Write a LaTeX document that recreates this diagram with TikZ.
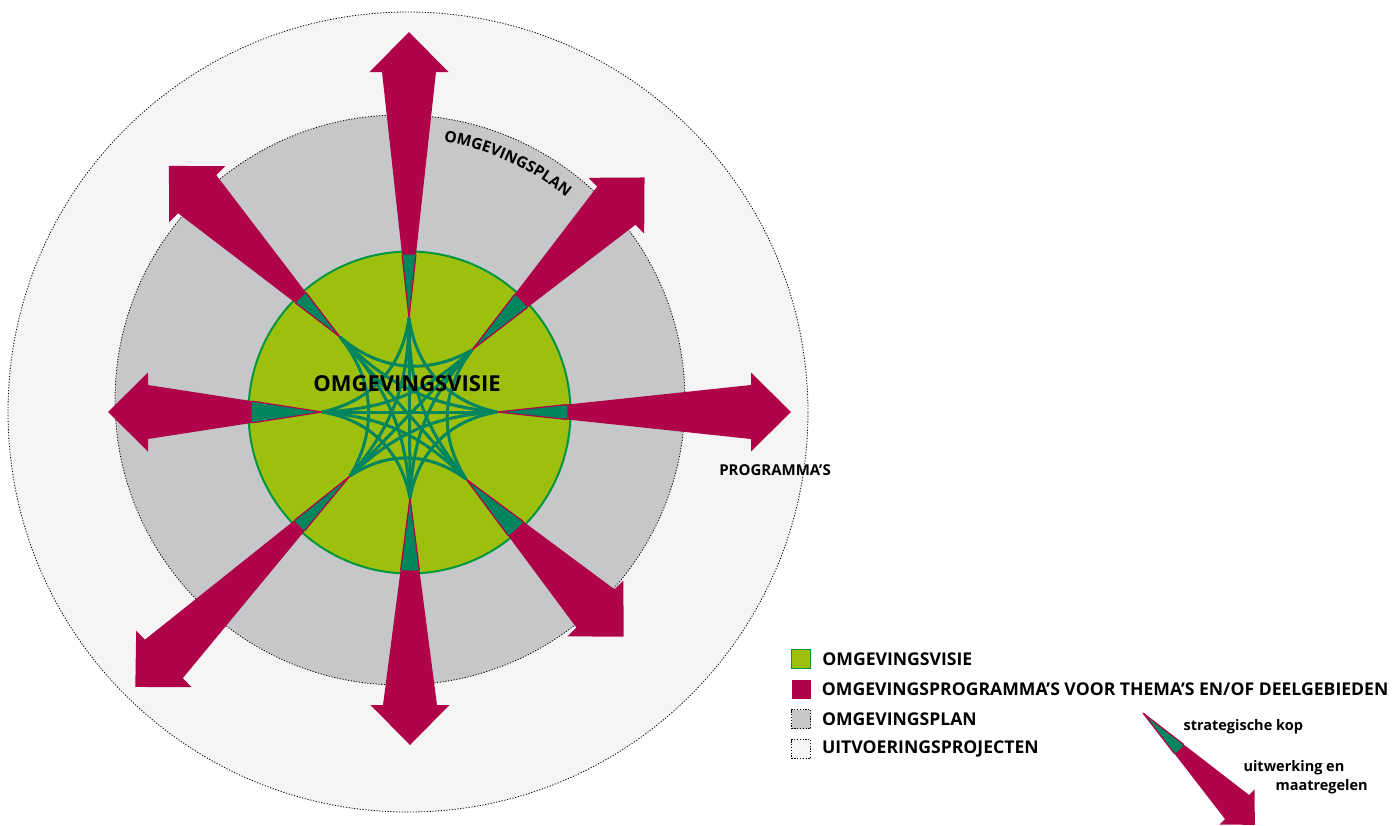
\documentclass[tikz,border=0pt]{standalone}
\usepackage{fontspec}
\setmainfont{Open Sans}
\usetikzlibrary{calc,positioning,decorations.text}

\definecolor{visielime}{HTML}{9DC00F}
\definecolor{visieline}{HTML}{00963F}
\definecolor{kopgreen}{HTML}{00855F}
\definecolor{progred}{HTML}{B0044A}
\definecolor{plangray}{HTML}{C6C7C9}
\definecolor{uitvoering}{HTML}{F5F5F5}

\tikzset{
  prog/.style={fill=progred},
  kop/.style={fill=kopgreen, draw=progred, line width=1.2pt, line join=round},
  ster/.style={draw=kopgreen, line width=3pt},
  ring/.style={draw=black, line width=0.8pt, dash pattern=on 1.2pt off 1.6pt},
  legbox/.style={minimum size=19pt, inner sep=0pt},
  legtext/.style={font=\bfseries\fontsize{17.6}{17.6}\selectfont, inner sep=0pt},
}

% apex, angle, length to tip, clip for the strategic head
\newcommand{\progarrow}[4]{%
  \fill[prog] (#1) -- ($(#1)+(#2:#3-40)+(#2-90:27)$) -- ($(#1)+(#2:#3-40)+(#2-90:39.5)$)
    -- ($(#1)+(#2:#3)$) -- ($(#1)+(#2:#3-40)+(#2+90:39.5)$) -- ($(#1)+(#2:#3-40)+(#2+90:27)$) -- cycle;
  \begin{scope}
    \clip #4;
    \filldraw[kop] (#1) -- ($(#1)+(#2:#3-40)+(#2-90:27)$) -- ($(#1)+(#2:#3-40)+(#2+90:27)$) -- cycle;
  \end{scope}}

\begin{document}
\begin{tikzpicture}[x=1pt,y=1pt]
  \useasboundingbox (0,0) rectangle (1394,-825);

  \coordinate (mid) at (408,-412);
  \coordinate (plan) at (400,-400);
  \coordinate (visie) at (409.5,-412.5);

  % rings
  \filldraw[ring, fill=uitvoering] (mid) circle (400);
  \filldraw[ring, fill=plangray] (plan) circle (285);
  \filldraw[draw=visieline, line width=2pt, fill=visielime] (visie) circle (161);

  % apexes of the programmes
  \coordinate (p0) at (497,-412);
  \coordinate (p1) at (472,-350);
  \coordinate (p2) at (409,-318);
  \coordinate (p3) at (340,-337);
  \coordinate (p4) at (322,-412);
  \coordinate (p5) at (350,-476);
  \coordinate (p6) at (410,-498);
  \coordinate (p7) at (466,-479);

  \progarrow{p0}{0}{294}{(visie) circle (158)}
  \progarrow{p1}{45}{244}{(visie) circle (158)}
  \progarrow{p2}{90}{286}{(visie) circle (158)}
  \progarrow{p3}{135}{242}{(visie) circle (158)}
  \progarrow{p4}{180}{214}{(visie) circle (158)}
  \progarrow{p5}{-135.5}{301}{(visie) circle (158)}
  \progarrow{p6}{-90}{247}{(visie) circle (158)}
  \progarrow{p7}{-45}{223}{(visie) circle (158)}

  % star
  \foreach \i in {0,...,7}{
    \pgfmathtruncatemacro{\j}{mod(\i+2,8)}
    \pgfmathtruncatemacro{\k}{mod(\i+3,8)}
    \draw[ster] (p\i) to[bend left=35] (p\j);
    \draw[ster] (p\i) to[bend left=20] (p\k);
  }
  \foreach \i [evaluate=\i as \j using int(\i+4)] in {0,...,3}
    \draw[ster] (p\i) -- (p\j);

  % labels
  \node[font=\bfseries\fontsize{22}{22}\selectfont] (visietekst) at (407,-384) {OMGEVINGSVISIE};
  \path[decorate, decoration={text along path, text align=center,
      text={|\bfseries\fontsize{15.5}{15.5}\selectfont|OMGEVINGSPLAN}}]
    ($(plan)+(82:262)$) arc[start angle=82, end angle=49, radius=262];
  \node[font=\bfseries\fontsize{15}{15}\selectfont] (programmas) at (775,-470) {PROGRAMMA’S};

  % legend
  \node[legbox, fill=visielime, draw=visieline, line width=1.5pt] (k1) at (801,-659) {};
  \node[legbox, fill=progred] (k2) at (801,-689) {};
  \node[legbox, fill=plangray, ring] (k3) at (801,-719) {};
  \node[legbox, fill=uitvoering, ring] (k4) at (801,-749) {};
  \node[legtext, right=11pt of k1] (t1) {OMGEVINGSVISIE};
  \node[legtext, right=11pt of k2] (t2) {OMGEVINGSPROGRAMMA’S VOOR THEMA’S EN/OF DEELGEBIEDEN};
  \node[legtext, right=11pt of k3] (t3) {OMGEVINGSPLAN};
  \node[legtext, right=11pt of k4] (t4) {UITVOERINGSPROJECTEN};

  \begin{scope}[shift={(1143,-713)}, scale=0.63]
    \coordinate (la) at (0,0);
    \progarrow{la}{-45}{251}{(la) circle (82)}
  \end{scope}
  \node[font=\bfseries\fontsize{14.5}{14.5}\selectfont, anchor=west] (kop) at (1180,-727) {strategische kop};
  \node[font=\bfseries\fontsize{14.5}{14.5}\selectfont, anchor=west] (uitwerking) at (1240,-768) {uitwerking en};
  \node[font=\bfseries\fontsize{14.5}{14.5}\selectfont, anchor=west] (maatregelen) at (1272,-787) {maatregelen};
\end{tikzpicture}
\end{document}
